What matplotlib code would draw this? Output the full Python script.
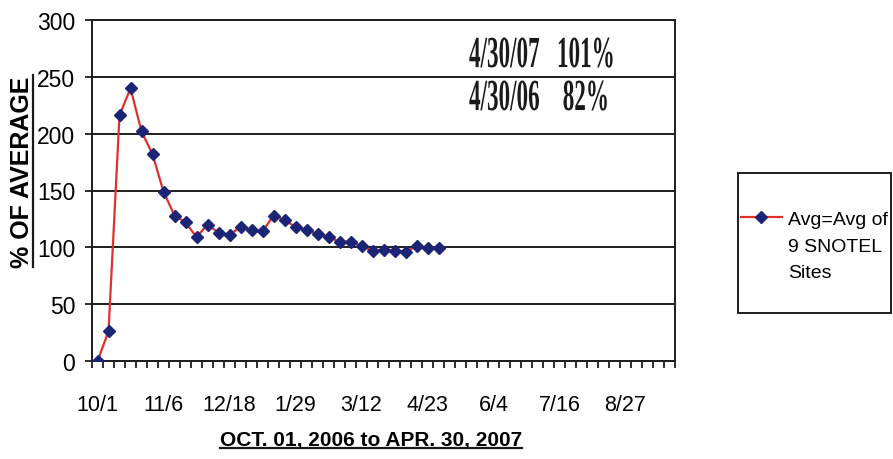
import matplotlib
matplotlib.use('Agg')
import matplotlib.pyplot as plt
from matplotlib.lines import Line2D
from matplotlib.patches import Rectangle
from matplotlib.patheffects import AbstractPathEffect
from matplotlib.transforms import Affine2D
from matplotlib.legend_handler import HandlerLine2D

# % of average, weekly from 10/1/2006 to 4/30/2007
pct_of_avg = [0, 26, 216, 240, 202, 182, 149, 128, 122, 109, 120, 113, 111, 118,
              115, 114, 128, 124, 118, 115, 112, 109, 105, 105, 101, 97, 98, 97,
              96, 101, 99, 99]
n_weeks = 53  # category slots on the x axis (whole water year)
tick_labels = ['10/1', '11/6', '12/18', '1/29', '3/12', '4/23', '6/4', '7/16', '8/27']
label_every = 6
notes = ['4/30/07   101%', '4/30/06    82%']

plt.rcParams['font.family'] = ['Liberation Sans', 'DejaVu Sans']


class Squeeze(AbstractPathEffect):
    # squeeze text horizontally around its anchor (condensed look)
    def __init__(self, sx):
        super().__init__()
        self.sx = sx
        self.x0 = 0.0

    def draw_path(self, renderer, gc, tpath, affine, rgbFace=None):
        sq = Affine2D().translate(-self.x0, 0).scale(self.sx, 1).translate(self.x0, 0)
        renderer.draw_path(gc, tpath, affine + sq, rgbFace)


class FirstLineHandler(HandlerLine2D):
    # put the legend symbol next to the first line of a multi-line label
    def create_artists(self, legend, orig_handle, xdescent, ydescent, width, height,
                       fontsize, trans):
        return super().create_artists(legend, orig_handle, xdescent, ydescent - 42,
                                      width, height, fontsize, trans)


fig = plt.figure(figsize=(8.93, 4.6), dpi=100)
ax = fig.add_axes([92 / 893, 98 / 460, 583 / 893, 341 / 460])

x = list(range(len(pct_of_avg)))
line, = ax.plot(x, pct_of_avg, color='#e0302c', lw=1.6, marker='D', ms=6.5,
                mfc='#1c2475', mec='#1c2475', zorder=3)

ax.set_xlim(-0.5, n_weeks - 0.5)
ax.set_ylim(0, 300)
ax.set_yticks(range(0, 301, 50))
ax.yaxis.grid(True, color='#1e1e1e', lw=1.4)
ax.set_axisbelow(True)
for s in ax.spines.values():
    s.set_color('#1e1e1e')
    s.set_linewidth(1.4)

ax.set_xticks(range(0, n_weeks, label_every)[:len(tick_labels)])
ax.set_xticklabels(tick_labels)
ax.set_xticks([i - 0.5 for i in range(n_weeks + 1)], minor=True)
ax.tick_params(axis='x', which='major', length=0, pad=24, labelsize=15.5)
ax.tick_params(axis='x', which='minor', length=5, width=1.3, direction='out', color='#1e1e1e')
ax.tick_params(axis='y', length=5, width=1.3, pad=7, labelsize=16.5, color='#1e1e1e')

ax.set_xlabel('OCT. 01, 2006 to APR. 30, 2007', fontsize=15, fontweight='bold')
ax.xaxis.set_label_coords(0.479, -0.201)
ax.set_ylabel('% OF AVERAGE', fontsize=18, fontweight='bold')
ax.yaxis.set_label_coords(-0.100, 0.557)

# the two year-to-date notes, condensed serif
for note, yb in zip(notes, [0.862, 0.736]):
    t = ax.text(0.6467, yb, note, transform=ax.transAxes, ha='left', va='baseline',
                fontsize=32, fontweight='bold', family='Liberation Serif', color='#1a1a1a')
    eff = Squeeze(0.52)
    eff.x0 = t.get_transform().transform(t.get_position())[0]
    t.set_path_effects([eff])

# legend with its own box
fig.add_artist(Rectangle((738 / 893, 146 / 460), 153 / 893, 140 / 460,
                         transform=fig.transFigure, fill=False, ec='#1e1e1e', lw=1.4))
leg = fig.legend([line], ['Avg=Avg of\n9 SNOTEL\nSites'], loc='upper left',
                 bbox_to_anchor=(741 / 893, 1 - 212 / 460), frameon=False,
                 fontsize=14, handlelength=2.1, handletextpad=0.3,
                 borderpad=0, borderaxespad=0,
                 handler_map={Line2D: FirstLineHandler()})
leg.get_texts()[0].set_linespacing(1.75)

# underline the axis titles
fig.canvas.draw()
bb = ax.xaxis.label.get_window_extent()
fig.add_artist(Line2D([bb.x0, bb.x1], [bb.y0 + 0.5, bb.y0 + 0.5], transform=None,
                      color='#1a1a1a', lw=1.6))
bb = ax.yaxis.label.get_window_extent()
fig.add_artist(Line2D([bb.x1 - 0.5, bb.x1 - 0.5], [bb.y0, bb.y1], transform=None,
                      color='#1a1a1a', lw=1.6))

fig.savefig('out.png', dpi=100)
